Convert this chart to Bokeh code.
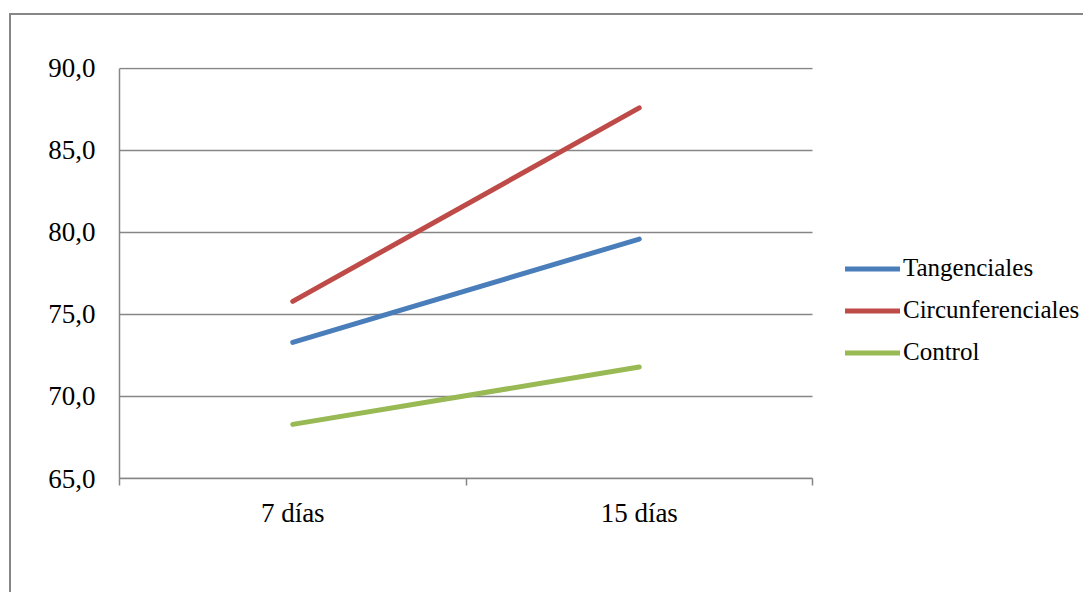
from bokeh.plotting import figure
from bokeh.models import (Range1d, FixedTicker, CustomJSTickFormatter, Legend, LegendItem)
from bokeh.embed import file_html
from bokeh.resources import INLINE

categories = ["7 días", "15 días"]
tangenciales = [73.3, 79.6]
circunferenciales = [75.8, 87.6]
control = [68.3, 71.8]
series_names = ["Tangenciales", "Circunferenciales", "Control"]
series_colors = ["#4A7EBB", "#BE4B48", "#98B954"]
y_ticks = [65, 70, 75, 80, 85, 90]

FONT = "Liberation Serif"
GRAY = "#868686"

# canvas offset on page (css margin + border)
OFF_X, OFF_Y = 11, 15
W, H = 1074, 579
LEFT = 119 - OFF_X
TOP = 67 - OFF_Y
BOTTOM = H - (478 - OFF_Y)
FRAME_W = W - LEFT
PLOT_W = 812 - 119          # width of the category area inside the frame
n = len(categories)
x_end = n * FRAME_W / PLOT_W

p = figure(width=W, height=H, output_backend="svg", toolbar_location=None,
           x_range=Range1d(0, x_end), y_range=Range1d(y_ticks[0], y_ticks[-1] + 0.06),
           min_border_left=LEFT, min_border_right=0, min_border_top=TOP,
           min_border_bottom=BOTTOM,
           styles={"border-top": "2px solid #868686", "border-left": "2px solid #868686",
                   "margin-top": "13px", "margin-left": "9px"})
p.outline_line_color = None
p.background_fill_color = "white"
p.border_fill_color = "white"

xs = [i + 0.5 for i in range(n)]

# x axis
p.xaxis.bounds = (0, n)
p.xaxis.ticker = FixedTicker(ticks=xs, minor_ticks=list(range(n + 1)))
p.xaxis.formatter = CustomJSTickFormatter(args=dict(cats=categories),
                                          code="return cats[Math.floor(tick)];")
p.xaxis.major_tick_out = 0
p.xaxis.major_tick_in = 0
p.xaxis.minor_tick_out = 7
p.xaxis.minor_tick_in = 0
p.xaxis.minor_tick_line_color = GRAY
p.xaxis.minor_tick_line_width = 1.5
p.xaxis.axis_line_color = GRAY
p.xaxis.axis_line_width = 1.5
p.xaxis.major_label_text_font = FONT
p.xaxis.major_label_text_font_size = "27px"
p.xaxis.major_label_text_color = "black"
p.xaxis.major_label_standoff = 12

# y axis
p.yaxis.bounds = (y_ticks[0], y_ticks[-1])
p.yaxis.ticker = FixedTicker(ticks=y_ticks, minor_ticks=[])
p.yaxis.formatter = CustomJSTickFormatter(code="return tick.toFixed(1).replace('.', ',');")
p.yaxis.major_tick_out = 0
p.yaxis.major_tick_in = 0
p.yaxis.minor_tick_line_color = None
p.yaxis.axis_line_color = GRAY
p.yaxis.axis_line_width = 1.5
p.yaxis.major_label_text_font = FONT
p.yaxis.major_label_text_font_size = "27px"
p.yaxis.major_label_text_color = "black"
p.yaxis.major_label_standoff = 24

p.xgrid.grid_line_color = None
p.ygrid.grid_line_color = None
# horizontal gridlines limited to the category area
p.segment(x0=[0] * len(y_ticks), x1=[n] * len(y_ticks), y0=y_ticks, y1=y_ticks,
          line_color=GRAY, line_width=1.5, level="underlay")

items = []
for name, vals, col in zip(series_names, [tangenciales, circunferenciales, control], series_colors):
    r = p.line(xs, vals, line_color=col, line_width=5, line_cap="round", line_join="round")
    items.append(LegendItem(label=name, renderers=[r]))

legend = Legend(items=items, location=(726, 105.5))
legend.label_text_font = FONT
legend.label_text_font_size = "25px"
legend.label_text_color = "black"
legend.glyph_width = 55
legend.glyph_height = 41
legend.label_height = 41
legend.label_standoff = 3
legend.spacing = 1
legend.padding = 0
legend.margin = 0
legend.border_line_color = None
legend.background_fill_alpha = 0
p.add_layout(legend, "center")

open("out.html", "w").write(file_html(p, INLINE))
